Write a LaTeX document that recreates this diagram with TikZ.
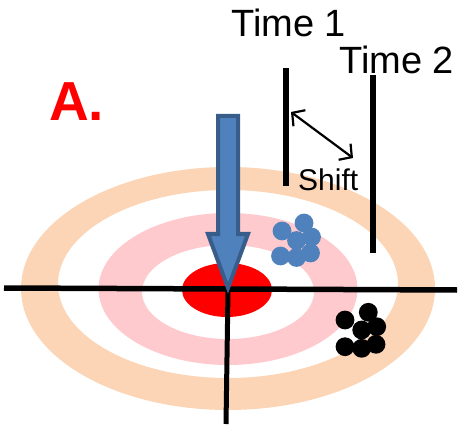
\documentclass[tikz,border=0pt]{standalone}
\usepackage{fontspec}
\setmainfont{Liberation Sans}
\usetikzlibrary{arrows.meta}
\definecolor{peach}{HTML}{FBD5B5}
\definecolor{pinkring}{HTML}{FFCACE}
\definecolor{arrowfill}{HTML}{4F81BD}
\definecolor{arrowline}{HTML}{385D8A}
\tikzset{
  bar/.style={line width=5.5pt, black},
  cross/.style={line width=5.5pt, black},
  dotb/.style={fill=arrowfill},
  dotk/.style={fill=black},
  lbl/.style={anchor=base west, inner sep=0pt},
}
\begin{document}
\begin{tikzpicture}[x=1pt,y=-1pt]
\useasboundingbox (0,0) rectangle (470,427);
% rings
\fill[peach, even odd rule] (228,288.5) ellipse[x radius=207pt, y radius=121.5pt]
  (228,284) ellipse[x radius=170pt, y radius=94pt];
\fill[pinkring, even odd rule] (228,289) ellipse[x radius=129.5pt, y radius=76pt]
  (228,292) ellipse[x radius=86pt, y radius=47pt];
\fill[red] (227,290) ellipse[x radius=45pt, y radius=27pt];
% cross lines
\coordinate (hl) at (4,288);
\coordinate (hr) at (457,290);
\coordinate (vt) at (228,290);
\coordinate (vb) at (226,424);
\draw[cross] (hl) -- (hr);
\draw[cross, line width=5pt] (vt) -- (vb);
% blue dots
\foreach \x/\y in {282/231, 304/223, 296.5/240.5, 311.5/237, 280.5/256, 296.5/257.5, 310.5/253}
  \fill[dotb] (\x,\y) circle[radius=9.4pt];
% black dots
\foreach \x/\y in {345/320, 368.3/312.3, 361.7/330, 376.7/326.7, 345/346.7, 361.7/348.3, 376/344.3}
  \fill[dotk] (\x,\y) circle[radius=9.4pt];
% big arrow
\draw[line width=4pt, draw=arrowline, fill=arrowfill, line join=miter]
  (218,116) -- (238,116) -- (238,234) -- (248,234) -- (228,288) -- (208,234) -- (218,234) -- cycle;
% time bars
\coordinate (t1a) at (286,68);
\coordinate (t1b) at (286,186);
\coordinate (t2a) at (373,75);
\coordinate (t2b) at (373,253);
\draw[bar] (t1a) -- (t1b);
\draw[bar] (t2a) -- (t2b);
% shift arrow
\coordinate (sa) at (291,112);
\coordinate (sb) at (353,158);
\draw[line width=2.2pt, {Straight Barb[length=9pt,width=20pt]}-{Straight Barb[length=9pt,width=20pt]}] (sa) -- (sb);
% labels
\node[lbl, font=\fontsize{38}{40}\selectfont] (time1) at (231,37) {Time 1};
\node[lbl, font=\fontsize{38}{40}\selectfont] (time2) at (339,74) {Time 2};
\node[lbl, font=\fontsize{30}{32}\selectfont] (shift) at (298,191) {Shift};
\node[lbl, font=\fontsize{55}{58}\selectfont\bfseries, text=red] (A) at (49,121) {A.};
\end{tikzpicture}
\end{document}
